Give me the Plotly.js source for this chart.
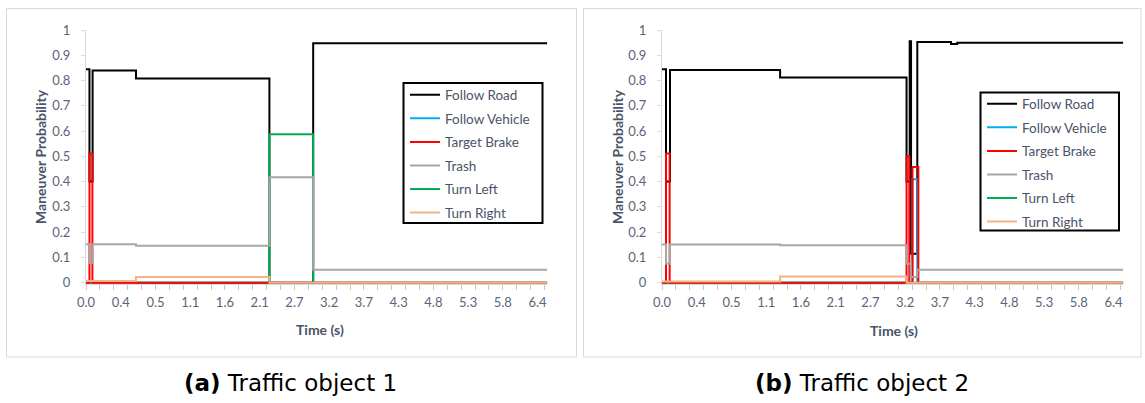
<!DOCTYPE html>
<html>
<head>
<meta charset="utf-8">
<script src="https://cdn.plot.ly/plotly-3.0.1.min.js"></script>
<style>
  html, body { margin: 0; padding: 0; background: #ffffff; }
  #chart { width: 1145px; height: 403px; }
</style>
</head>
<body>
<div id="chart"></div>
<script>
// Sample index along the time axis (one label every 5 samples, a tick mark every 2)
const tickIdx = [0, 5, 10, 15, 20, 25, 30, 35, 40, 45, 50, 55, 60, 65];
const tickText = ['0.0', '0.4', '0.5', '1.1', '1.6', '2.1', '2.7', '3.2', '3.7', '4.3', '4.8', '5.3', '5.8', '6.4'];
const idxEnd = 66.4;
const tickMarkIdx = Array.from({ length: 34 }, (_, k) => 2 * k);

const maneuvers = ['Follow Road', 'Follow Vehicle', 'Target Brake', 'Trash', 'Turn Left', 'Turn Right'];
const colors = ['#000000', '#00b0f0', '#ff0000', '#a6a6a6', '#00b050', '#f4b183'];

// ---- Traffic object 1: step breakpoints (sample index) and probabilities ----
const o1FollowRoadX = [0, 0.5, 0.95, 7.2, 26.4, 32.7, 66.4];
const o1FollowRoadY = [0.845, 0.40, 0.84, 0.808, 0.0, 0.948, 0.948];
const o1FollowVehicleX = [0, 66.4];
const o1FollowVehicleY = [0, 0];
const o1TargetBrakeX = [0, 0.5, 0.92, 66.4];
const o1TargetBrakeY = [0, 0.51, 0, 0];
const o1TrashX = [0, 0.5, 0.95, 7.2, 26.4, 32.7, 66.4];
const o1TrashY = [0.152, 0.078, 0.152, 0.146, 0.417, 0.051, 0.051];
const o1TurnLeftX = [0, 7.2, 26.4, 32.7, 66.4];
const o1TurnLeftY = [0.004, 0, 0.587, 0, 0];
const o1TurnRightX = [0, 7.2, 26.4, 66.4];
const o1TurnRightY = [0.007, 0.022, 0, 0];

// ---- Traffic object 2 ----
const o2FollowRoadX = [0, 0.58, 1.15, 17.0, 35.2, 35.65, 35.85, 36.75, 41.6, 42.5, 66.4];
const o2FollowRoadY = [0.845, 0.40, 0.842, 0.812, 0.40, 0.955, 0.115, 0.953, 0.945, 0.95, 0.95];
const o2FollowVehicleX = [0, 36.05, 36.75, 66.4];
const o2FollowVehicleY = [0, 0.409, 0, 0];
const o2TargetBrakeX = [0, 0.58, 1.1, 35.2, 35.6, 36.05, 36.9, 66.4];
const o2TargetBrakeY = [0, 0.511, 0, 0.50, 0, 0.458, 0, 0];
const o2TrashX = [0, 0.58, 1.15, 17.0, 35.2, 35.8, 36.75, 66.4];
const o2TrashY = [0.151, 0.075, 0.151, 0.148, 0.075, 0.022, 0.051, 0.051];
const o2TurnLeftX = [0, 66.4];
const o2TurnLeftY = [0, 0];
const o2TurnRightX = [0, 17.0, 35.2, 66.4];
const o2TurnRightY = [0.005, 0.024, 0, 0];

const series1 = [
  [o1FollowRoadX, o1FollowRoadY], [o1FollowVehicleX, o1FollowVehicleY],
  [o1TargetBrakeX, o1TargetBrakeY], [o1TrashX, o1TrashY],
  [o1TurnLeftX, o1TurnLeftY], [o1TurnRightX, o1TurnRightY]
];
const series2 = [
  [o2FollowRoadX, o2FollowRoadY], [o2FollowVehicleX, o2FollowVehicleY],
  [o2TargetBrakeX, o2TargetBrakeY], [o2TrashX, o2TrashY],
  [o2TurnLeftX, o2TurnLeftY], [o2TurnRightX, o2TurnRightY]
];

// drawing order (Turn Left sits under Target Brake); legend keeps the named order
const drawOrder = [0, 1, 4, 2, 3, 5];

function buildTraces(series, axisSuffix, legendId, groupPrefix) {
  return drawOrder.map(i => ({
    type: 'scatter',
    mode: 'lines',
    x: series[i][0],
    y: series[i][1],
    name: maneuvers[i],
    line: { color: colors[i], width: 2, shape: 'hv' },
    xaxis: 'x' + axisSuffix,
    yaxis: 'y' + axisSuffix,
    legend: legendId,
    legendgroup: groupPrefix + i,
    legendrank: i + 1,
    hoverinfo: 'skip'
  }));
}

const traces = buildTraces(series1, '', 'legend', 'a').concat(buildTraces(series2, '2', 'legend2', 'b'));

const W = 1145, H = 403;
const px = v => v / W;
const py = v => 1 - v / H;

const sans = 'Lato, "Open Sans", sans-serif';
const tickFont = { family: sans, size: 13, color: '#5b6579' };
const titleFont = { family: sans, size: 14, color: '#4a5468' };

function xAxis(domain, anchor) {
  return {
    domain: domain, anchor: anchor, range: [0, idxEnd],
    tickmode: 'array', tickvals: tickIdx, ticktext: tickText,
    ticks: 'outside', ticklen: 0, tickcolor: 'rgba(0,0,0,0)',
    showgrid: false, zeroline: false,
    showline: true, linecolor: '#d9d9d9', linewidth: 1,
    tickfont: tickFont, ticklabelstandoff: 6,
    minor: { tickmode: 'array', tickvals: tickMarkIdx, ticks: 'outside', ticklen: 5, tickcolor: '#c8c8c8', tickwidth: 1, showgrid: false }
  };
}
function yAxis(anchor) {
  return {
    domain: [(H - 284.2) / H, (H - 30) / H], anchor: anchor, range: [-0.006, 1],
    tickmode: 'linear', tick0: 0, dtick: 0.1,
    ticks: 'outside', ticklen: 4, tickcolor: '#d9d9d9',
    showgrid: false, zeroline: false,
    showline: true, linecolor: '#d9d9d9', linewidth: 1,
    tickfont: tickFont, ticklabelstandoff: 8
  };
}

function legendBox(xPix, yPix) {
  return {
    x: px(xPix), y: py(yPix), xanchor: 'left', yanchor: 'top',
    bgcolor: 'rgba(0,0,0,0)', borderwidth: 0,
    font: { family: sans, size: 13.5, color: '#4a5468' },
    traceorder: 'grouped', tracegroupgap: 3, itemwidth: 30
  };
}

function frame(x0, x1, y0, y1, color, width, fill) {
  return { type: 'rect', xref: 'paper', yref: 'paper', x0: px(x0), x1: px(x1), y0: py(y1), y1: py(y0),
    line: { color: color, width: width }, fillcolor: fill, layer: 'below' };
}

function label(text, x, y, font, angle) {
  return { text: text, xref: 'paper', yref: 'paper', x: px(x), y: py(y),
    xanchor: 'center', yanchor: 'middle', textangle: angle || 0, showarrow: false, font: font };
}

const captionFont = { family: '"DejaVu Sans", sans-serif', size: 23, color: '#000000' };

const layout = {
  width: W, height: H,
  margin: { l: 0, r: 0, t: 0, b: 0 },
  paper_bgcolor: '#ffffff', plot_bgcolor: '#ffffff',
  showlegend: true,
  xaxis: xAxis([px(86), px(547.3)], 'y'),
  yaxis: yAxis('x'),
  xaxis2: xAxis([px(662), px(1123.3)], 'y2'),
  yaxis2: yAxis('x2'),
  legend: legendBox(405, 79.5),
  legend2: legendBox(982, 88.5),
  shapes: [
    frame(6.5, 576.5, 8.5, 357, '#d9d9d9', 1, 'rgba(0,0,0,0)'),
    frame(583.5, 1141, 8.5, 357, '#d9d9d9', 1, 'rgba(0,0,0,0)'),
    frame(403.5, 542.5, 83, 223, '#000000', 2, '#ffffff'),
    frame(980.5, 1119, 92.5, 230.5, '#000000', 2, '#ffffff')
  ],
  annotations: [
    label('<b>Maneuver Probability</b>', 40, 157, titleFont, -90),
    label('<b>Maneuver Probability</b>', 617, 156, titleFont, -90),
    label('<b>Time (s)</b>', 320, 329, titleFont),
    label('<b>Time (s)</b>', 894, 330, titleFont),
    label('<b>(a)</b> Traffic object 1', 290, 383, captionFont),
    label('<b>(b)</b> Traffic object 2', 862, 383, captionFont)
  ]
};

Plotly.newPlot('chart', traces, layout, { staticPlot: true, displayModeBar: false });
</script>
</body>
</html>
